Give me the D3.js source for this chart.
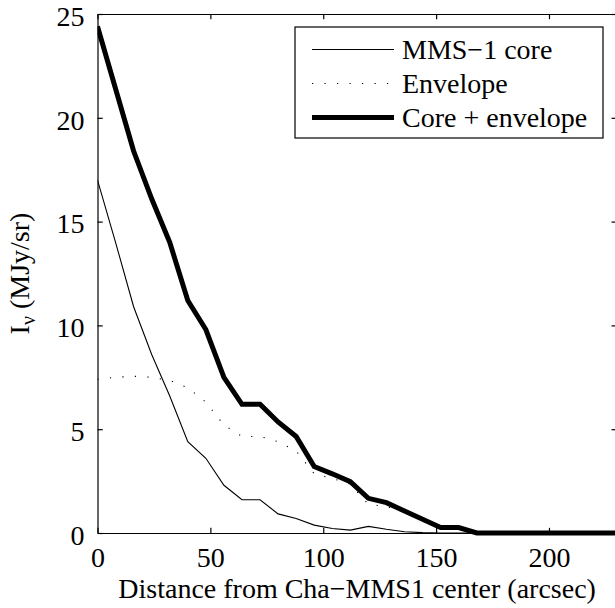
<!DOCTYPE html>
<html>
<head>
<meta charset="utf-8">
<script src="https://cdn.jsdelivr.net/npm/d3@7"></script>
</head>
<body style="margin:0; background:#fff">
<div id="chart"></div>
<script>
// radial distance samples (arcsec), 8" steps
const distance = [0, 8, 16, 24, 32, 40, 48, 56, 64, 72, 80, 88, 96, 104, 112, 120,
  128, 136, 144, 152, 160, 168, 176, 184, 192, 200, 208, 216, 224, 232];
const core = [17.0, 14.0, 10.9, 8.6, 6.6, 4.4, 3.6, 2.3, 1.6, 1.6, 0.92, 0.7, 0.38, 0.22, 0.14, 0.32,
  0.18, 0.06, 0.02, 0, 0, 0, 0, 0, 0, 0, 0, 0, 0, 0];
const envelope = [7.4, 7.5, 7.55, 7.5, 7.35, 7.0, 6.3, 5.2, 4.65, 4.65, 4.4, 3.95, 2.85, 2.63, 2.35, 1.38,
  1.28, 1.0, 0.64, 0.26, 0.26, 0, 0, 0, 0, 0, 0, 0, 0, 0];
const total = [24.4, 21.4, 18.4, 16.1, 14.0, 11.2, 9.8, 7.5, 6.2, 6.2, 5.35, 4.65, 3.2, 2.85, 2.47, 1.67,
  1.46, 1.06, 0.66, 0.26, 0.26, 0, 0, 0, 0, 0, 0, 0, 0, 0];
const xTicks = [0, 50, 100, 150, 200];
const yTicks = [0, 5, 10, 15, 20, 25];
const legendLabels = ["MMS\u22121 core", "Envelope", "Core + envelope"];

const width = 615, height = 608;
const margin = { left: 97.5, right: 616.7, top: 14, bottom: 533 };
const tick = 5.2;
const font = "'Liberation Serif'";

const svg = d3.select("#chart").append("svg")
  .attr("width", width)
  .attr("height", height)
  .style("font-family", font);

const x = d3.scaleLinear().domain([0, 230]).range([margin.left, margin.right]);
const y = d3.scaleLinear().domain([0, 25]).range([margin.bottom, margin.top]);

svg.append("defs").append("clipPath").attr("id", "plot")
  .append("rect")
  .attr("x", margin.left).attr("y", margin.top - 4)
  .attr("width", margin.right - margin.left).attr("height", margin.bottom - margin.top + 8);

const series = [
  { label: legendLabels[0], values: core, width: 1.1, dash: null },
  { label: legendLabels[1], values: envelope, width: 1.1, dash: "1.2,11.3" },
  { label: legendLabels[2], values: total, width: 5, dash: null }
];

const line = d3.line()
  .x((d, i) => x(distance[i]))
  .y(d => y(d));

svg.append("g")
  .attr("clip-path", "url(#plot)")
  .selectAll("path")
  .data(series)
  .join("path")
  .attr("d", d => line(d.values))
  .attr("fill", "none")
  .attr("stroke", "#000")
  .attr("stroke-width", d => d.width)
  .attr("stroke-dasharray", d => d.dash)
  .attr("stroke-linejoin", "miter");

// axes box with inward ticks
const axisBottom = d3.axisBottom(x).tickValues(xTicks).tickSizeInner(-tick).tickSizeOuter(0).tickPadding(14);
const axisTop = d3.axisTop(x).tickValues(xTicks).tickSizeInner(-tick).tickSizeOuter(0).tickFormat("");
const axisLeft = d3.axisLeft(y).tickValues(yTicks).tickSizeInner(-tick).tickSizeOuter(0).tickPadding(13);
const axisRight = d3.axisRight(y).tickValues(yTicks).tickSizeInner(-tick).tickSizeOuter(0).tickFormat("");

const gB = svg.append("g").attr("transform", `translate(0,${margin.bottom})`).call(axisBottom);
const gT = svg.append("g").attr("transform", `translate(0,${margin.top})`).call(axisTop);
const gL = svg.append("g").attr("transform", `translate(${margin.left},0)`).call(axisLeft);
const gR = svg.append("g").attr("transform", `translate(${margin.right},0)`).call(axisRight);

[gB, gT, gL, gR].forEach(g => {
  g.attr("font-family", null).attr("font-size", null);
  g.select(".domain").attr("stroke", "#000").attr("stroke-width", 1.2);
  g.selectAll(".tick line").attr("stroke", "#000").attr("stroke-width", 1.2);
  g.selectAll(".tick text")
    .style("font-family", font)
    .style("font-size", "28px")
    .attr("fill", "#000");
});
gB.selectAll(".tick text").attr("dy", "0.71em");
gL.selectAll(".tick text").attr("dy", "0.4em");

// axis titles
svg.append("text")
  .attr("x", (margin.left + margin.right) / 2)
  .attr("y", 598)
  .attr("text-anchor", "middle")
  .style("font-family", font)
  .style("font-size", "28px")
  .text("Distance from Cha\u2212MMS1 center (arcsec)");

const yl = svg.append("text")
  .attr("transform", `translate(29,${(margin.top + margin.bottom) / 2}) rotate(-90)`)
  .attr("text-anchor", "middle")
  .style("font-family", font)
  .style("font-size", "28px");
yl.append("tspan").text("I");
yl.append("tspan").attr("dy", 6).style("font-size", "20px").text("\u03bd");
yl.append("tspan").attr("dy", -6).text(" (MJy/sr)");

// legend
const lg = svg.append("g");
lg.append("rect")
  .attr("x", 295).attr("y", 27)
  .attr("width", 308).attr("height", 111)
  .attr("fill", "#fff")
  .attr("stroke", "#000")
  .attr("stroke-width", 1.2);

const rowY = d3.scalePoint().domain(legendLabels).range([49.5, 117.5]);
const rows = lg.selectAll("g.row")
  .data(series)
  .join("g")
  .attr("class", "row")
  .attr("transform", d => `translate(0,${rowY(d.label)})`);

rows.append("line")
  .attr("x1", 312).attr("x2", 394)
  .attr("stroke", "#000")
  .attr("stroke-width", d => d.width)
  .attr("stroke-dasharray", d => d.dash);

rows.append("text")
  .attr("x", 402)
  .attr("dy", "0.35em")
  .style("font-family", font)
  .style("font-size", "28px")
  .text(d => d.label);
</script>
</body>
</html>
